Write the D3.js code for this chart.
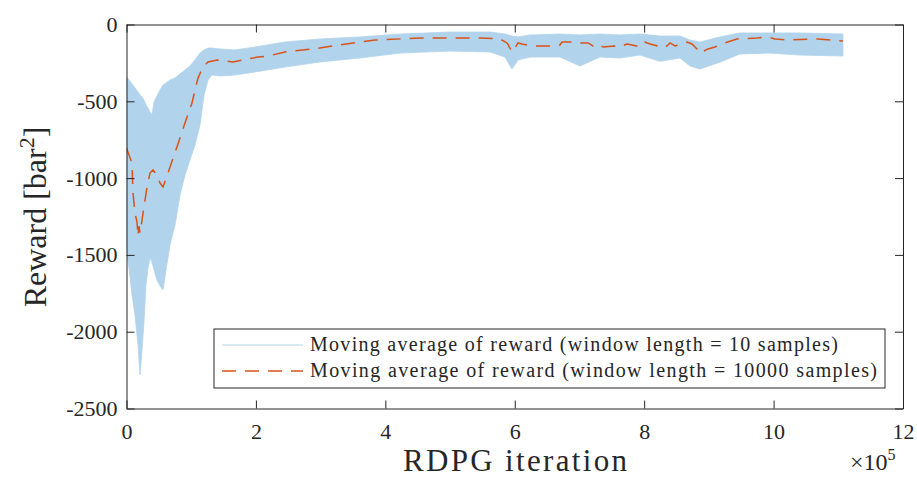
<!DOCTYPE html>
<html>
<head>
<meta charset="utf-8">
<script src="https://cdn.jsdelivr.net/npm/d3@7"></script>
<style>
  body { margin: 0; background: #fff; }
  svg text { font-family: "Liberation Serif", "DejaVu Serif", serif; fill: #262626; }
</style>
</head>
<body>
<svg id="chart" width="917" height="478"></svg>
<script>
// band of the 10-sample moving average (upper / lower edge), iterations
var bandIter = [0, 3900, 8500, 13100, 17800, 20900, 24000, 27000, 30100, 33200, 36300, 39400,
    42500, 47100, 51800, 56400, 61000, 67200, 75000, 82700, 90400, 98100, 105900, 113600,
    119800, 126000, 132100, 144500, 167700, 198600, 245000, 299000, 360800, 422700, 500000,
    561700, 584900, 595700, 605000, 623500, 669900, 700800, 731700, 762600, 793500, 824400,
    855300, 870800, 886200, 917100, 948000, 994400, 1040700, 1107200];
var bandHigh = [-342, -361, -387, -413, -439, -459, -472, -492, -524, -544, -570, -589,
    -505, -465, -426, -394, -381, -361, -348, -322, -296, -270, -231, -186,
    -166, -153, -153, -159, -166, -146, -114, -94, -81, -62, -49,
    -49, -62, -75, -81, -68, -62, -68, -62, -68, -62, -75,
    -75, -101, -114, -81, -55, -55, -55, -62];
var bandLow = [-1468, -1585, -1761, -1891, -2086, -2282, -2119, -1937, -1696, -1585, -1520, -1546,
    -1598, -1663, -1702, -1728, -1600, -1435, -1305, -1110, -980, -882, -784, -654,
    -459, -361, -329, -335, -329, -309, -277, -244, -218, -186, -173,
    -179, -212, -290, -231, -212, -212, -270, -212, -218, -199, -240,
    -218, -270, -290, -245, -192, -186, -199, -205];

// 10000-sample moving average
var avgIter = [0, 3900, 8500, 10000, 13100, 16200, 17800, 19300, 20900, 24000, 27000, 31700,
    36300, 41000, 47100, 51800, 56400, 64100, 78000, 90400, 101200, 110500, 118200, 126000,
    139900, 164600, 186200, 203200, 218700, 245000, 288200, 329900, 384000, 453600, 546300,
    577200, 588000, 592600, 595700, 600400, 605000, 611200, 628200, 654500, 669900, 673000,
    693100, 700800, 713200, 720900, 727100, 736400, 753400, 762600, 773500, 781200, 793600,
    801300, 809000, 821400, 829100, 835300, 839900, 847700, 858500, 866200, 873900, 881600,
    886200, 898600, 909400, 924900, 943400, 974300, 991300, 1002200, 1020700, 1068600, 1107200];
var avgReward = [-804, -850, -902, -1097, -1227, -1286, -1377, -1312, -1357, -1273, -1188, -1058,
    -967, -947, -980, -1032, -1058, -967, -797, -641, -511, -348, -277, -244,
    -231, -244, -225, -212, -205, -179, -159, -133, -101, -88, -88,
    -94, -120, -153, -179, -153, -120, -127, -140, -140, -133, -114,
    -114, -120, -120, -140, -127, -146, -140, -146, -127, -133, -146,
    -114, -127, -140, -153, -140, -120, -140, -127, -114, -127, -159,
    -186, -159, -146, -120, -94, -88, -81, -94, -101, -94, -107];

var xTicks = [0, 2e5, 4e5, 6e5, 8e5, 10e5, 12e5];
var yTicks = [0, -500, -1000, -1500, -2000, -2500];
var legendLabels = ["Moving average of reward (window length = 10 samples)",
    "Moving average of reward (window length = 10000 samples)"];

(function() {
var svg = d3.select("#chart");
var mLeft = 126.5, mRight = 903, mTop = 24.5, mBottom = 408.5;
var axisColor = "#262626";
var blue = "#b1d3ec", red = "#d95319";

var x = d3.scaleLinear().domain([0, 12e5]).range([mLeft, mRight]);
var y = d3.scaleLinear().domain([-2500, 0]).range([mBottom, mTop]);

svg.append("defs").append("clipPath").attr("id", "plotclip")
    .append("rect").attr("x", mLeft).attr("y", mTop)
    .attr("width", mRight - mLeft).attr("height", mBottom - mTop);

var band = bandIter.map(function(d, i) { return {it: d, hi: bandHigh[i], lo: bandLow[i]}; });
var avg = avgIter.map(function(d, i) { return {it: d, v: avgReward[i]}; });

var plot = svg.append("g").attr("clip-path", "url(#plotclip)");

plot.append("path")
    .datum(band)
    .attr("fill", blue)
    .attr("stroke", blue)
    .attr("stroke-width", 0.8)
    .attr("d", d3.area()
        .x(function(d) { return x(d.it); })
        .y0(function(d) { return y(d.lo); })
        .y1(function(d) { return y(d.hi); }));

plot.append("path")
    .datum(avg)
    .attr("fill", "none")
    .attr("stroke", red)
    .attr("stroke-width", 1.5)
    .attr("stroke-dasharray", "14,9")
    .attr("d", d3.line()
        .x(function(d) { return x(d.it); })
        .y(function(d) { return y(d.v); }));

// axes, ticks inward on all four sides
var tickLen = 8;
var bottomAxis = d3.axisBottom(x).tickValues(xTicks).tickSizeInner(-tickLen).tickSizeOuter(0)
    .tickPadding(15).tickFormat(function(d) { return d / 1e5; });
var topAxis = d3.axisTop(x).tickValues(xTicks).tickSizeInner(-tickLen).tickSizeOuter(0)
    .tickFormat("");
var leftAxis = d3.axisLeft(y).tickValues(yTicks).tickSizeInner(-tickLen).tickSizeOuter(0)
    .tickPadding(9).tickFormat(function(d) { return d; });
var rightAxis = d3.axisRight(y).tickValues(yTicks).tickSizeInner(-tickLen).tickSizeOuter(0)
    .tickFormat("");

function styleAxis(g) {
    g.select(".domain").attr("stroke", axisColor).attr("stroke-width", 1);
    g.selectAll(".tick line").attr("stroke", axisColor).attr("stroke-width", 1);
    g.selectAll(".tick text").attr("fill", axisColor)
        .style("font-family", "'Liberation Serif', serif").style("font-size", "22px");
}

svg.append("g").attr("transform", "translate(0," + mBottom + ")").call(bottomAxis).call(styleAxis);
svg.append("g").attr("transform", "translate(0," + mTop + ")").call(topAxis).call(styleAxis);
svg.append("g").attr("transform", "translate(" + mLeft + ",0)").call(leftAxis).call(styleAxis);
svg.append("g").attr("transform", "translate(" + mRight + ",0)").call(rightAxis).call(styleAxis);

// exponent label
var expo = svg.append("text").attr("x", 850).attr("y", 470).style("font-size", "24px");
expo.append("tspan").text("\u00d710");
expo.append("tspan").attr("dy", -10).style("font-size", "16px").text("5");

// axis titles
svg.append("text")
    .attr("x", 515).attr("y", 471)
    .attr("text-anchor", "middle")
    .attr("textLength", 224).attr("lengthAdjust", "spacing")
    .style("font-size", "31px")
    .text("RDPG iteration");

var ylab = svg.append("text")
    .attr("transform", "translate(46,217) rotate(-90)")
    .attr("text-anchor", "middle")
    .style("font-size", "32px");
ylab.append("tspan").text("Reward [bar");
ylab.append("tspan").attr("dy", -12).style("font-size", "22px").text("2");
ylab.append("tspan").attr("dy", 12).text("]");

// legend
var legend = svg.append("g");
legend.append("rect")
    .attr("x", 214).attr("y", 329).attr("width", 671).attr("height", 59)
    .attr("fill", "#fff").attr("stroke", axisColor).attr("stroke-width", 1);

var rowY = [345, 371];
var rowW = [528, 567];
legend.append("line").attr("x1", 222).attr("x2", 303).attr("y1", rowY[0]).attr("y2", rowY[0])
    .attr("stroke", blue).attr("stroke-width", 1);
legend.append("line").attr("x1", 222).attr("x2", 303).attr("y1", rowY[1]).attr("y2", rowY[1])
    .attr("stroke", red).attr("stroke-width", 1.5).attr("stroke-dasharray", "14,9");

legend.selectAll("text.lab")
    .data(legendLabels)
    .enter().append("text")
    .attr("class", "lab")
    .attr("x", 310)
    .attr("y", function(d, i) { return rowY[i] + 6; })
    .attr("textLength", function(d, i) { return rowW[i]; })
    .attr("lengthAdjust", "spacing")
    .style("font-size", "20px")
    .text(function(d) { return d; });
})();
</script>
</body>
</html>
